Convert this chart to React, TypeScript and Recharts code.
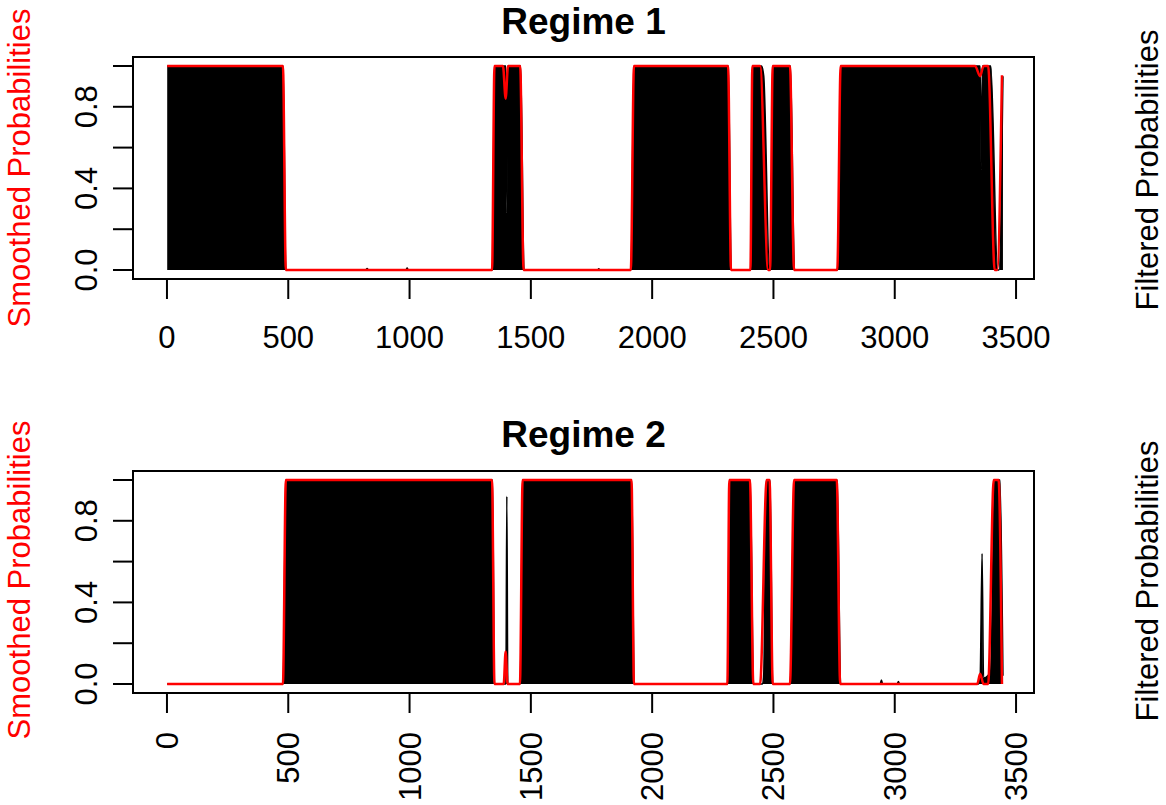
import React from 'react'
import {
  ComposedChart,
  Area,
  Line,
  XAxis,
  YAxis,
  ReferenceArea,
} from 'recharts'

const FONT = '"Liberation Sans", Arial, Helvetica, sans-serif'

type Pt = [number, number]

// time index ticks and probability ticks
const xTicks = [0, 500, 1000, 1500, 2000, 2500, 3000, 3500]
const yTicks = [0, 0.2, 0.4, 0.6, 0.8, 1]
const yLabelled = [0, 0.4, 0.8]

// Regime 1 (breakpoints)
const regime1Filtered: Pt[] = [
  [1, 1], [479, 1], [490, 0], [820, 0], [825, 0.008], [830, 0], [985, 0], [990, 0.01], [995, 0],
  [1342, 0], [1350, 1], [1397, 1], [1401, 0.28], [1405, 1], [1458, 1], [1472, 0],
  [1775, 0], [1780, 0.006], [1785, 0], [1913, 0], [1925, 1], [2314, 1], [2326, 0],
  [2406, 0], [2414, 1], [2451, 1], [2460, 0.95], [2484, 0], [2488, 0], [2498, 1],
  [2570, 1], [2587, 0], [2764, 0], [2778, 1], [3352, 1], [3357, 0.49], [3361, 1],
  [3396, 1], [3424, 0], [3430, 0], [3446, 0.95],
]
const regime1Smoothed: Pt[] = [
  [1, 1], [478, 1], [490, 0], [1340, 0], [1350, 1], [1385, 1], [1396, 0.84], [1406, 1],
  [1456, 1], [1470, 0], [1912, 0], [1925, 1], [2313, 1], [2325, 0], [2405, 0], [2413, 1],
  [2445, 1], [2478, 0], [2486, 0], [2497, 1], [2568, 1], [2585, 0], [2763, 0], [2777, 1],
  [3331, 1], [3352, 0.95], [3366, 1], [3385, 1], [3412, 0], [3422, 0], [3442, 0.955],
]

// Regime 2
const regime2Filtered: Pt[] = [
  [1, 0], [479, 0], [490, 1], [1342, 1], [1350, 0], [1397, 0], [1401, 0.92], [1405, 0],
  [1456, 0], [1467, 1], [1916, 1], [1926, 0], [2311, 0], [2319, 1], [2404, 1], [2418, 0],
  [2455, 0], [2460, 0.05], [2470, 1], [2486, 1], [2497, 0], [2569, 0], [2586, 1],
  [2763, 1], [2777, 0], [2940, 0], [2945, 0.02], [2950, 0], [3010, 0], [3015, 0.012],
  [3020, 0], [3345, 0], [3352, 0.03], [3360, 0.64], [3366, 0.03], [3395, 0.06],
  [3412, 1], [3434, 1], [3446, 0.04],
]
const regime2Smoothed: Pt[] = [
  [1, 0], [478, 0], [490, 1], [1340, 1], [1350, 0], [1388, 0], [1396, 0.16], [1404, 0],
  [1455, 0], [1466, 1], [1915, 1], [1925, 0], [2310, 0], [2318, 1], [2403, 1], [2417, 0],
  [2445, 0], [2472, 1], [2484, 1], [2497, 0], [2568, 0], [2585, 1], [2761, 1], [2775, 0],
  [3340, 0], [3352, 0.05], [3366, 0], [3385, 0], [3408, 1], [3428, 1], [3442, 0],
]

type Row = { t: number; filtered?: number; smoothed?: number }

const merge = (filtered: Pt[], smoothed: Pt[]): Row[] => {
  const rows = new Map<number, Row>()
  filtered.forEach(([t, v]) => {
    const r = rows.get(t) ?? { t }
    r.filtered = v
    rows.set(t, r)
  })
  smoothed.forEach(([t, v]) => {
    const r = rows.get(t) ?? { t }
    r.smoothed = v
    rows.set(t, r)
  })
  return [...rows.values()].sort((a, b) => a.t - b.t)
}

const XTickFlat = (props: any) => {
  const { x, y, payload } = props
  return (
    <text x={x} y={y + 49} textAnchor="middle" fontSize={31} fontFamily={FONT} fill="#000">
      {payload.value}
    </text>
  )
}

const XTickRotated = (props: any) => {
  const { x, y, payload } = props
  const bx = x + 11
  const by = y + 19
  return (
    <text
      x={bx}
      y={by}
      transform={`rotate(-90, ${bx}, ${by})`}
      textAnchor="end"
      fontSize={31}
      fontFamily={FONT}
      fill="#000"
    >
      {payload.value}
    </text>
  )
}

const YTick = (props: any) => {
  const { x, y, payload } = props
  const v = payload.value
  if (!yLabelled.some((l) => Math.abs(l - v) < 1e-9)) return <g />
  const bx = x - 16
  return (
    <text
      x={bx}
      y={y}
      transform={`rotate(-90, ${bx}, ${y})`}
      textAnchor="middle"
      fontSize={31}
      fontFamily={FONT}
      fill="#000"
    >
      {v.toFixed(1)}
    </text>
  )
}

type PanelProps = {
  data: Row[]
  height: number
  axisHeight: number
  rotated: boolean
}

const Panel = ({ data, height, axisHeight, rotated }: PanelProps) => (
  <ComposedChart
    width={1166}
    height={height}
    data={data}
    margin={{ top: 57, right: 132, bottom: 0, left: 0 }}
  >
    <XAxis
      dataKey="t"
      type="number"
      domain={[-140, 3574]}
      allowDataOverflow
      ticks={xTicks}
      interval={0}
      height={axisHeight}
      axisLine={false}
      tickSize={20}
      tickMargin={0}
      tickLine={{ stroke: '#000', strokeWidth: 2 }}
      tick={rotated ? <XTickRotated /> : <XTickFlat />}
    />
    <YAxis
      type="number"
      domain={[-0.044, 1.044]}
      allowDataOverflow
      ticks={yTicks}
      interval={0}
      width={133}
      axisLine={false}
      tickSize={20}
      tickMargin={0}
      tickLine={{ stroke: '#000', strokeWidth: 2 }}
      tick={<YTick />}
    />
    <Area
      type="monotone"
      dataKey="filtered"
      baseValue={0}
      stroke="#000"
      strokeWidth={1.5}
      fill="#000"
      fillOpacity={1}
      connectNulls
      dot={false}
      isAnimationActive={false}
    />
    <Line
      type="monotone"
      dataKey="smoothed"
      stroke="#ff0000"
      strokeWidth={2.5}
      connectNulls
      dot={false}
      isAnimationActive={false}
    />
    <ReferenceArea
      x1={-140}
      x2={3574}
      y1={-0.044}
      y2={1.044}
      fill="none"
      stroke="#000"
      strokeWidth={2}
      ifOverflow="visible"
    />
  </ComposedChart>
)

const textBase: React.CSSProperties = {
  position: 'absolute',
  fontFamily: FONT,
  whiteSpace: 'nowrap',
  lineHeight: 0.85,
  transform: 'translate(-50%, -50%)',
}

const title = (text: string, top: number) => (
  <div style={{ ...textBase, left: 583.5, top, fontSize: 37, fontWeight: 'bold' }}>{text}</div>
)

const sideLabel = (text: string, left: number, top: number, color: string) => (
  <div
    style={{
      ...textBase,
      left,
      top,
      fontSize: 31,
      color,
      transform: 'translate(-50%, -50%) rotate(-90deg)',
    }}
  >
    {text}
  </div>
)

const App = () => {
  const top = merge(regime1Filtered, regime1Smoothed)
  const bottom = merge(regime2Filtered, regime2Smoothed)
  return (
    <div
      style={{
        position: 'absolute',
        left: 0,
        top: 0,
        width: 1166,
        height: 805,
        background: '#fff',
        overflow: 'hidden',
      }}
    >
      <div style={{ position: 'absolute', left: 0, top: 0 }}>
        <Panel data={top} height={414} axisHeight={135} rotated={false} />
      </div>
      <div style={{ position: 'absolute', left: 0, top: 414 }}>
        <Panel data={bottom} height={391} axisHeight={112} rotated />
      </div>
      {title('Regime 1', 22)}
      {title('Regime 2', 435)}
      {sideLabel('Smoothed Probabilities', 20, 168, '#ff0000')}
      {sideLabel('Smoothed Probabilities', 20, 580, '#ff0000')}
      {sideLabel('Filtered Probabilities', 1148, 170, '#000')}
      {sideLabel('Filtered Probabilities', 1148, 581, '#000')}
    </div>
  )
}

export default App
